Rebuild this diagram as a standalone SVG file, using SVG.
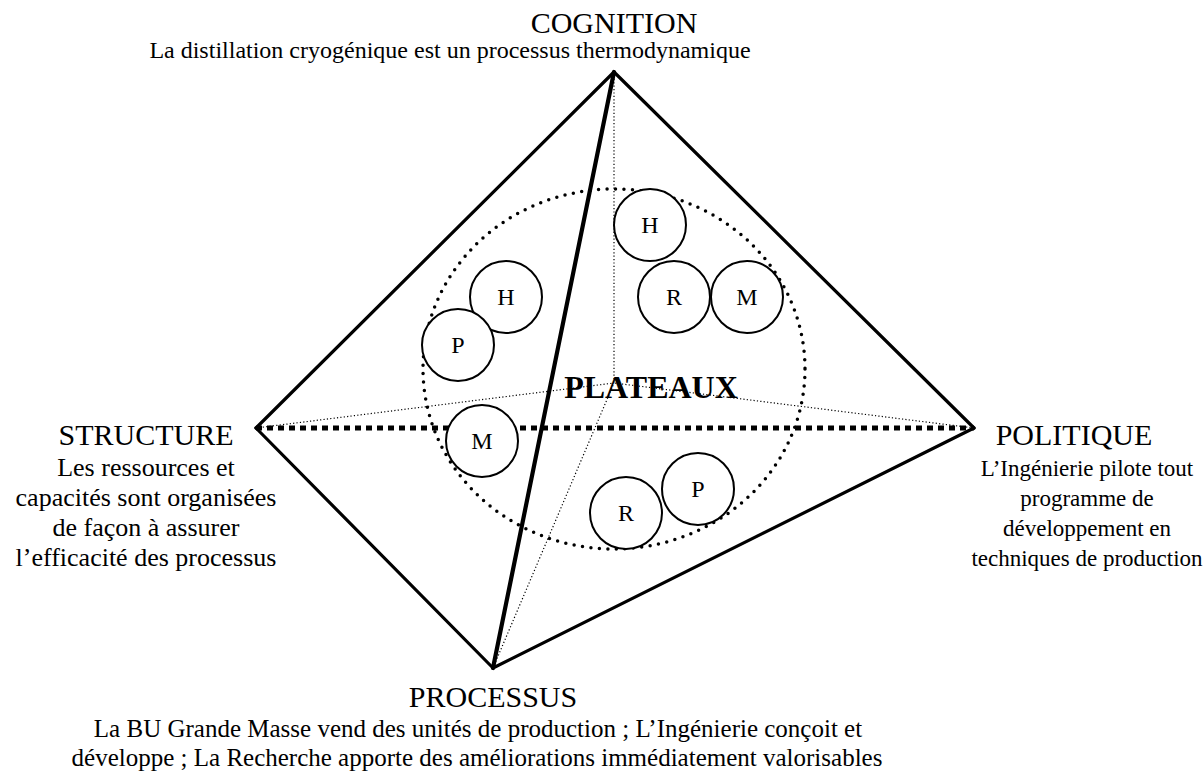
<svg xmlns="http://www.w3.org/2000/svg" width="1203" height="776" viewBox="0 0 1203 776">
<style>
text{font-family:"Liberation Serif","Times New Roman",serif;fill:#000;text-anchor:middle}
.t{font-size:30px}
.st{font-size:24px}
.sl{font-size:26px}
.sr{font-size:23px}
.sb{font-size:25px}
.c{font-size:24px}
.b{font-size:32px;font-weight:bold}
.edge{stroke:#000;stroke-width:3.2;fill:none;stroke-linecap:round}
.thin{stroke:#000;stroke-width:1.2;stroke-dasharray:1.2 2.2;fill:none}
.node circle{fill:#fff;stroke:#000;stroke-width:2}
</style>
<rect width="1203" height="776" fill="#fff"/>
<g id="connectors">
<line class="thin" x1="614" y1="72" x2="614" y2="383"/>
<line class="thin" x1="256" y1="428" x2="614" y2="383"/>
<line class="thin" x1="974" y1="428" x2="614" y2="383"/>
<line class="thin" x1="493" y1="668" x2="614" y2="383"/>
<line class="edge" x1="614" y1="72" x2="256" y2="428"/>
<line class="edge" x1="614" y1="72" x2="974" y2="428"/>
<line class="edge" x1="256" y1="428" x2="493" y2="668"/>
<line class="edge" x1="974" y1="428" x2="493" y2="668"/>
<line class="edge" x1="614" y1="72" x2="493" y2="668" style="stroke-width:4.2"/>
<line x1="256" y1="428" x2="974" y2="428" stroke="#000" stroke-width="5" stroke-dasharray="6 5"/>
<ellipse cx="614" cy="369" rx="191" ry="180" fill="none" stroke="#000" stroke-width="3.5" stroke-dasharray="0 8.5" stroke-linecap="round"/>
</g>
<g id="cognition"><text class="t" x="614" y="33">COGNITION</text><text class="st" x="450" y="58">La distillation cryogénique est un processus thermodynamique</text></g>
<g id="structure"><text class="t" x="146" y="445">STRUCTURE</text>
<text class="sl" x="146" y="476">Les ressources et</text>
<text class="sl" x="146" y="506">capacités sont organisées</text>
<text class="sl" x="146" y="536">de façon à assurer</text>
<text class="sl" x="146" y="566">l’efficacité des processus</text></g>
<g id="politique"><text class="t" x="1074" y="445">POLITIQUE</text>
<text class="sr" x="1087" y="476">L’Ingénierie pilote tout</text>
<text class="sr" x="1087" y="506">programme de</text>
<text class="sr" x="1087" y="536">développement en</text>
<text class="sr" x="1087" y="566">techniques de production</text></g>
<g id="processus"><text class="t" x="493" y="707">PROCESSUS</text>
<text class="sb" x="478" y="737">La BU Grande Masse vend des unités de production ; L’Ingénierie conçoit et</text>
<text class="sb" x="477" y="766">développe ; La Recherche apporte des améliorations immédiatement valorisables</text></g>
<g id="plateaux"><text class="b" x="651" y="398">PLATEAUX</text></g>
<g id="h1" class="node"><circle cx="506" cy="297" r="36"/><text class="c" x="506" y="305">H</text></g>
<g id="p1" class="node"><circle cx="458" cy="345" r="36"/><text class="c" x="458" y="353">P</text></g>
<g id="m1" class="node"><circle cx="482" cy="441" r="36"/><text class="c" x="482" y="449">M</text></g>
<g id="h2" class="node"><circle cx="650" cy="225" r="36"/><text class="c" x="650" y="233">H</text></g>
<g id="r2" class="node"><circle cx="674" cy="297" r="36"/><text class="c" x="674" y="305">R</text></g>
<g id="m2" class="node"><circle cx="747" cy="297" r="36"/><text class="c" x="747" y="305">M</text></g>
<g id="r3" class="node"><circle cx="626" cy="513" r="36"/><text class="c" x="626" y="521">R</text></g>
<g id="p3" class="node"><circle cx="698" cy="489" r="36"/><text class="c" x="698" y="497">P</text></g>
</svg>
